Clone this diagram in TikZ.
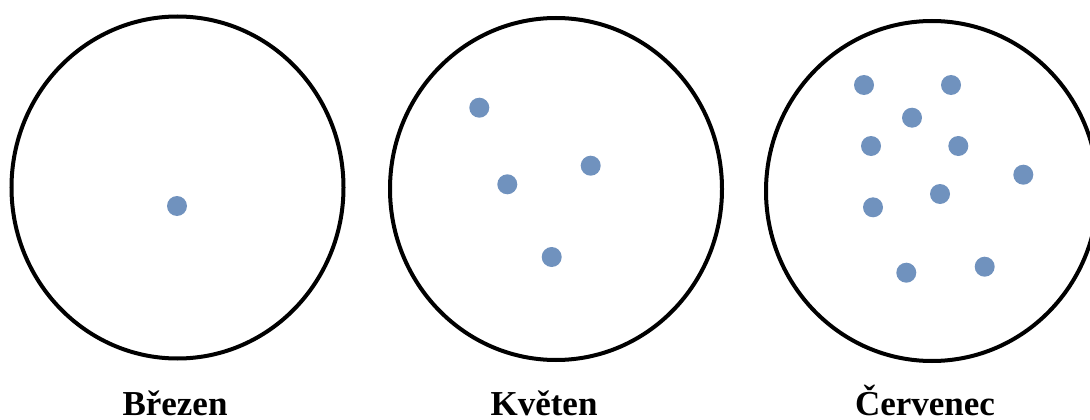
\documentclass[tikz,border=0pt]{standalone}
\usepackage{fontspec}
\setmainfont{Liberation Serif}
\definecolor{dotblue}{RGB}{112,146,190}
\tikzset{
  ring/.style={draw=black, line width=4pt},
  bead/.style={fill=dotblue},
  lbl/.style={anchor=base, font=\fontsize{35pt}{40pt}\selectfont\bfseries, inner sep=0pt}
}
\begin{document}
\begin{tikzpicture}[x=1pt,y=-1pt]
\useasboundingbox (0,0) rectangle (1090,420);
% circles
\draw[ring] (177.5,187.5) ellipse [x radius=166, y radius=171];
\draw[ring] (556,189) ellipse [x radius=166, y radius=171];
\draw[ring] (932,191) ellipse [x radius=166, y radius=170];
% Brezen
\fill[bead] (177,206) circle (10);
% Kveten
\fill[bead] (479.3,107.7) circle (10);
\fill[bead] (590.7,165.7) circle (10);
\fill[bead] (507.3,184.3) circle (10);
\fill[bead] (551.7,257) circle (10);
% Cervenec
\fill[bead] (864,85) circle (10);
\fill[bead] (951,85) circle (10);
\fill[bead] (912,117.7) circle (10);
\fill[bead] (871,146) circle (10);
\fill[bead] (958.3,146) circle (10);
\fill[bead] (1023.3,174.7) circle (10);
\fill[bead] (940,194) circle (10);
\fill[bead] (873,207.3) circle (10);
\fill[bead] (906.3,272.7) circle (10);
\fill[bead] (984.7,266.7) circle (10);
% labels
\node[lbl] (l1) at (175,415.5) {Březen};
\node[lbl] (l2) at (544,415.5) {Květen};
\node[lbl] (l3) at (925,415.5) {Červenec};
\end{tikzpicture}
\end{document}
